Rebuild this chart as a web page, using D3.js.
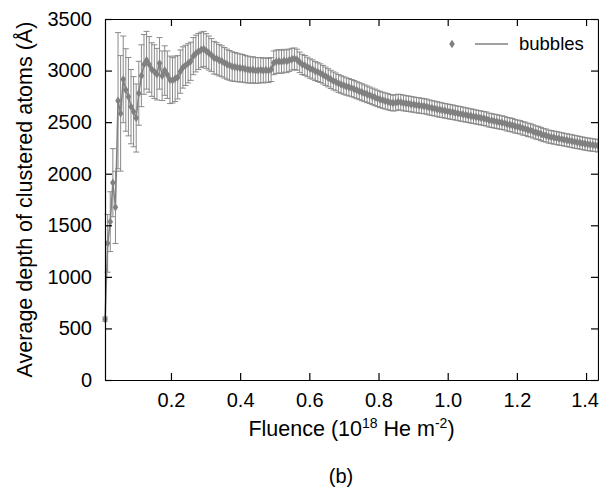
<!DOCTYPE html>
<html>
<head>
<meta charset="UTF-8">
<script src="https://d3js.org/d3.v7.min.js"></script>
<style>
  body { margin: 0; background: #fff; }
  text { font-family: "Liberation Sans", Arial, sans-serif; }
</style>
</head>
<body>
<div class="chart"></div>
<script>
// fluence grid (10^18 He m^-2): first sample and step between samples
var fluenceStart = 0.0095;
var fluenceStep = 0.0075;

// average depth of clustered atoms (Angstrom)
var depth = [
  590, 1325, 1535, 1913, 1674, 2708, 2585, 2915, 2812, 2747, 2650, 2601, 2540,
  2780, 2950, 3060, 3100, 3060, 3010, 2990, 2965,
  3070, 2950, 3000, 2960, 2910, 2905, 2920, 2935, 2990, 3030,
  3050, 3070, 3090, 3140, 3165, 3185, 3200, 3210, 3190, 3170,
  3150, 3125, 3115, 3100, 3090, 3075, 3062, 3050, 3040, 3035,
  3030, 3025, 3022, 3015, 3010, 3005, 3008, 3000, 3002, 3005,
  3000, 3006, 3000, 3010, 3075, 3085, 3090, 3085, 3095, 3090,
  3100, 3110, 3115, 3105, 3080, 3060, 3050, 3035, 3020, 3010,
  2995, 2985, 2975, 2960, 2945, 2930, 2915, 2900, 2890, 2875,
  2865, 2855, 2845, 2838, 2830, 2820, 2810, 2800, 2790, 2780,
  2770, 2760, 2750, 2740, 2730, 2720, 2712, 2705, 2698, 2690,
  2685, 2688, 2695, 2692, 2686, 2682, 2678, 2674, 2670, 2665,
  2662, 2658, 2654, 2650, 2642, 2636, 2632, 2625, 2620, 2615,
  2610, 2605, 2600, 2596, 2590, 2585, 2580, 2575, 2570, 2565,
  2560, 2555, 2550, 2545, 2540, 2535, 2530, 2520, 2515, 2510,
  2505, 2500, 2495, 2490, 2480, 2475, 2470, 2460, 2455, 2450,
  2440, 2435, 2425, 2420, 2410, 2400, 2395, 2385, 2375, 2370,
  2360, 2355, 2350, 2345, 2340, 2335, 2330, 2325, 2320, 2315,
  2310, 2305, 2300, 2295, 2290, 2285, 2282, 2278, 2275, 2270
];

// error bar half heights (Angstrom)
var depthErr = [
  20, 280, 290, 330, 350, 660, 560, 420, 400, 380, 360, 340, 330,
  310, 300, 290, 280, 270, 260, 260, 250,
  250, 240, 240, 230, 230, 220, 220, 210, 210, 200,
  195, 190, 185, 180, 178, 175, 172, 170, 168, 165,
  160, 158, 155, 152, 150, 148, 146, 144, 142, 140,
  138, 136, 134, 132, 130, 128, 126, 125, 124, 122,
  120, 118, 117, 116, 115, 114, 113, 112, 111, 110,
  108, 106, 104, 102, 100, 98, 96, 95, 94, 93,
  92, 91, 90, 90, 89, 88, 88, 87, 86, 86,
  85, 85, 84, 84, 83, 83, 82, 82, 82, 81,
  81, 80, 80, 80, 79, 79, 78, 78, 78, 77,
  77, 77, 76, 76, 76, 75, 75, 75, 74, 74,
  74, 74, 73, 73, 73, 72, 72, 72, 72, 71,
  71, 71, 71, 70, 70, 70, 70, 70, 69, 69,
  69, 69, 68, 68, 68, 68, 68, 67, 67, 67,
  67, 67, 66, 66, 66, 66, 66, 65, 65, 65,
  65, 65, 65, 64, 64, 64, 64, 64, 64, 63,
  63, 63, 63, 63, 63, 62, 62, 62, 62, 62,
  62, 62, 61, 61, 61, 61, 61, 61, 60, 60
];

var xTicks = [0.2, 0.4, 0.6, 0.8, 1.0, 1.2, 1.4];
var yTicks = [0, 500, 1000, 1500, 2000, 2500, 3000, 3500];
var seriesName = "bubbles";

var W = 599, H = 491;
var plotL = 105, plotR = 598, plotT = 19, plotB = 380;
var grey = "#808080";

var data = depth.map(function(d, i) {
  return { x: fluenceStart + i * fluenceStep, y: d, e: depthErr[i] };
});

var svg = d3.select(".chart").append("svg")
  .attr("width", W)
  .attr("height", H);

var x = d3.scaleLinear().domain([0.0093, 1.4345]).range([plotL, plotR]);
var y = d3.scaleLinear().domain([0, 3500]).range([plotB, plotT]);

var diamond = function(cx, cy) {
  return "M" + cx + "," + (cy - 4.2) + "L" + (cx + 2.8) + "," + cy +
         "L" + cx + "," + (cy + 4.2) + "L" + (cx - 2.8) + "," + cy + "Z";
};

var plot = svg.append("g");

// error bars
var eb = plot.append("g").attr("stroke", "#8a8a8a").attr("stroke-width", 1).attr("fill", "none");
data.forEach(function(d) {
  var px = x(d.x), y1 = y(d.y + d.e), y2 = y(d.y - d.e);
  eb.append("path").attr("d",
    "M" + px + "," + y1 + "V" + y2 +
    "M" + (px - 3) + "," + y1 + "H" + (px + 3) +
    "M" + (px - 3) + "," + y2 + "H" + (px + 3));
});

// connecting line
plot.append("path")
  .datum(data)
  .attr("fill", "none")
  .attr("stroke", grey)
  .attr("stroke-width", 1.5)
  .attr("d", d3.line().x(function(d) { return x(d.x); }).y(function(d) { return y(d.y); }));

// markers
plot.append("g").attr("fill", grey)
  .selectAll("path").data(data).enter().append("path")
  .attr("d", function(d) { return diamond(x(d.x), y(d.y)); });

// axes, ticks pointing inward on all four sides
var fs = 20;
var gx = svg.append("g").attr("transform", "translate(0," + plotB + ")")
  .call(d3.axisBottom(x).tickValues(xTicks).tickFormat(d3.format(".1f"))
        .tickSizeInner(-7).tickSizeOuter(0).tickPadding(13));
var gxt = svg.append("g").attr("transform", "translate(0," + plotT + ")")
  .call(d3.axisTop(x).tickValues(xTicks).tickFormat("")
        .tickSizeInner(-7).tickSizeOuter(0));
var gy = svg.append("g").attr("transform", "translate(" + plotL + ",0)")
  .call(d3.axisLeft(y).tickValues(yTicks).tickFormat(d3.format("d"))
        .tickSizeInner(-7).tickSizeOuter(0).tickPadding(13));
var gyr = svg.append("g").attr("transform", "translate(" + plotR + ",0)")
  .call(d3.axisRight(y).tickValues(yTicks).tickFormat("")
        .tickSizeInner(-7).tickSizeOuter(0));

[gx, gxt, gy, gyr].forEach(function(g) {
  g.selectAll("path, line").attr("stroke", "#000").attr("stroke-width", 1.2);
  g.selectAll("text").attr("font-size", fs).attr("fill", "#000")
    .attr("font-family", "Liberation Sans, Arial, sans-serif");
});
// last x label sits right against the frame edge
gx.selectAll(".tick text").filter(function(d) { return d === 1.4; }).attr("dx", -1.5);

// axis titles
var tfs = 21.5;
var xl = svg.append("text")
  .attr("x", (plotL + plotR) / 2).attr("y", 436)
  .attr("text-anchor", "middle").attr("font-size", tfs);
xl.append("tspan").text("Fluence (10");
xl.append("tspan").attr("dy", -8).attr("font-size", 14).text("18");
xl.append("tspan").attr("dy", 8).text(" He m");
xl.append("tspan").attr("dy", -8).attr("font-size", 14).text("-2");
xl.append("tspan").attr("dy", 8).text(")");

svg.append("text")
  .attr("transform", "translate(32," + (plotT + plotB) / 2 + ") rotate(-90)")
  .attr("text-anchor", "middle").attr("font-size", tfs)
  .text("Average depth of clustered atoms (Å)");

// legend
var lg = svg.append("g");
lg.append("path").attr("d", diamond(452, 44)).attr("fill", grey);
lg.append("line").attr("x1", 475).attr("x2", 508).attr("y1", 44).attr("y2", 44)
  .attr("stroke", grey).attr("stroke-width", 1.5);
lg.append("text").attr("x", 519).attr("y", 50).attr("font-size", 18.5).text(seriesName);

// panel label
svg.append("text")
  .attr("x", 341).attr("y", 483).attr("text-anchor", "middle")
  .attr("font-size", 20).attr("font-family", "Liberation Serif, Times New Roman, serif")
  .text("(b)");
</script>
</body>
</html>
